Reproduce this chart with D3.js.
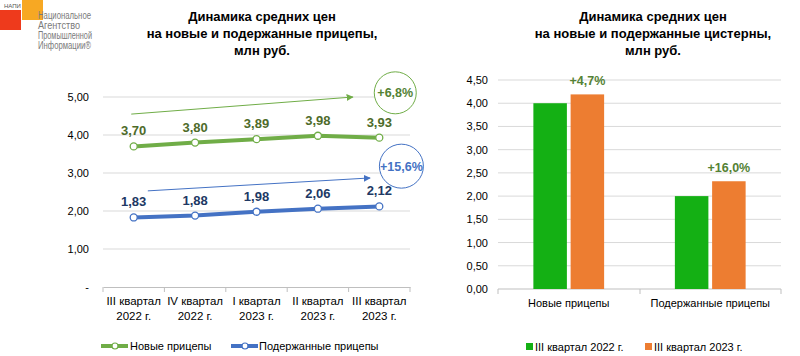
<!DOCTYPE html>
<html><head><meta charset="utf-8">
<script src="https://cdn.jsdelivr.net/npm/d3@7"></script>
<style>body{margin:0;background:#fff}svg{display:block;font-family:"Liberation Sans",Arial,sans-serif}</style>
</head><body><svg id="c" width="800" height="356"></svg>
<script>
// ---- data: left chart (trailers) ----
const quarters = [["III квартал","2022 г."],["IV квартал","2022 г."],["I квартал","2023 г."],["II квартал","2023 г."],["III квартал","2023 г."]];
const newTrailers = [3.70, 3.80, 3.89, 3.98, 3.93];
const usedTrailers = [1.83, 1.88, 1.98, 2.06, 2.12];
const leftTicks = [0, 1, 2, 3, 4, 5];
const leftTickLabels = ["-", "1,00", "2,00", "3,00", "4,00", "5,00"];
const leftSeriesNames = ["Новые прицепы", "Подержанные прицепы"];
const growthNew = "+6,8%";
const growthUsed = "+15,6%";
// ---- data: right chart (tankers) ----
const tankCats = ["Новые прицепы", "Подержанные прицепы"];
const tankSeries = ["III квартал 2022 г.", "III квартал 2023 г."];
const tank2022 = [4.00, 2.00];
const tank2023 = [4.19, 2.32];
const tankGrowth = ["+4,7%", "+16,0%"];
const rightTicks = [0, 0.5, 1, 1.5, 2, 2.5, 3, 3.5, 4, 4.5];

const svg = d3.select("#c");
const fmt = v => v.toFixed(2).replace(".", ",");
const GREEN = "#70ad47", BLUE = "#4472c4";

// ---- logo ----
const logo = svg.append("g");
logo.append("rect").attr("x",0).attr("y",10).attr("width",21).attr("height",20).attr("fill","#ee3a1c");
logo.append("rect").attr("x",22).attr("y",0).attr("width",21).attr("height",20).attr("fill","#f7a823");
logo.append("text").attr("x",4).attr("y",8).attr("font-size",6).attr("fill","#555").text("НАПИ");
const logoLines = [["Национальное",19,53],["Агентство",29,42],["Промышленной",39,54],["Информации®",49,53]];
logoLines.forEach(([t,y,w])=>{
  logo.append("text").attr("x",38).attr("y",y).attr("font-size",10)
    .attr("textLength",w).attr("lengthAdjust","spacingAndGlyphs")
    .attr("fill","#7a7a7a").text(t);
});

// ---- titles ----
function title(cx, lines){
  lines.forEach((t,i)=>svg.append("text").attr("x",cx).attr("y",21+i*17).attr("text-anchor","middle")
    .attr("font-size",13).attr("font-weight","bold").attr("fill","#000").text(t));
}
title(262, ["Динамика средних цен","на новые и подержанные прицепы,","млн руб."]);
title(653, ["Динамика средних цен","на новые и подержанные цистерны,","млн руб."]);

// ---- left chart ----
const xL = d3.scaleBand().domain(quarters.map((d,i)=>i)).range([103,410]).padding(0);
const xi = d3.scaleLinear().domain([0,4]).range([xL(0)+xL.bandwidth()/2, xL(4)+xL.bandwidth()/2]);
const yL = d3.scaleLinear().domain([0,5]).range([287,97]);

const gl = svg.append("g");
gl.selectAll("line.grid").data(leftTicks.filter(d=>d>0)).join("line")
  .attr("x1",103).attr("x2",410).attr("y1",d=>yL(d)).attr("y2",d=>yL(d))
  .attr("stroke","#d9d9d9").attr("stroke-width",1);
gl.selectAll("text.yl").data(leftTicks).join("text")
  .attr("x",89).attr("y",d=>yL(d)+4).attr("text-anchor","end").attr("font-size",11).attr("fill","#000")
  .text((d,i)=>leftTickLabels[i]);
// x axis
const axL = gl.append("g").attr("transform","translate(0,287)")
  .call(d3.axisBottom(xL).tickSize(0).tickFormat(""));
axL.select(".domain").attr("stroke","#bfbfbf");
d3.range(6).forEach(i=>{
  const xx = 103 + i*xL.step();
  gl.append("line").attr("x1",xx).attr("x2",xx).attr("y1",287).attr("y2",292).attr("stroke","#bfbfbf");
});
quarters.forEach((q,i)=>{
  q.forEach((t,j)=>gl.append("text").attr("x",xi(i)).attr("y",305+j*15).attr("text-anchor","middle")
    .attr("font-size",11.5).attr("fill","#000").text(t));
});

const line = d3.line().x((d,i)=>xi(i)).y(d=>yL(d));
[[newTrailers,GREEN,"#4e6b2a"],[usedTrailers,BLUE,"#203864"]].forEach(([vals,col,lc])=>{
  gl.append("path").datum(vals).attr("d",line).attr("fill","none").attr("stroke",col).attr("stroke-width",4)
    .attr("stroke-linejoin","round");
  gl.selectAll(null).data(vals).join("circle").attr("cx",(d,i)=>xi(i)).attr("cy",d=>yL(d)).attr("r",3.5)
    .attr("fill","#fff").attr("stroke",col).attr("stroke-width",1.3);
  gl.selectAll(null).data(vals).join("text").attr("x",(d,i)=>xi(i)).attr("y",d=>yL(d)-11)
    .attr("text-anchor","middle").attr("font-size",13).attr("font-weight","bold").attr("fill",lc).text(fmt);
});

// arrows + growth circles
const defs = svg.append("defs");
[["ag",GREEN],["ab",BLUE]].forEach(([id,c])=>{
  defs.append("marker").attr("id",id).attr("viewBox","0 0 10 10").attr("refX",9).attr("refY",5)
    .attr("markerWidth",7).attr("markerHeight",7).attr("orient","auto")
    .append("path").attr("d","M0,0L10,5L0,10z").attr("fill",c);
});
const arrows = [
  {x0:-0.04,y0:4.55,x1:3.57,y1:5.0,c:GREEN,m:"ag",cx:4.26,cy:5.11,r:21,t:growthNew},
  {x0:0.23,y0:2.53,x1:3.85,y1:2.87,c:BLUE,m:"ab",cx:4.36,cy:3.18,r:22,t:growthUsed}
];
arrows.forEach(a=>{
  gl.append("line").attr("x1",xi(a.x0)).attr("y1",yL(a.y0)).attr("x2",xi(a.x1)).attr("y2",yL(a.y1))
    .attr("stroke",a.c).attr("stroke-width",1).attr("marker-end",`url(#${a.m})`);
  gl.append("circle").attr("cx",xi(a.cx)).attr("cy",yL(a.cy)).attr("r",a.r).attr("fill","#fff")
    .attr("stroke",a.c).attr("stroke-width",1);
  gl.append("text").attr("x",xi(a.cx)).attr("y",yL(a.cy)+4.5).attr("text-anchor","middle")
    .attr("font-size",12.5).attr("font-weight","bold").attr("fill",a.c===GREEN?"#548235":BLUE).text(a.t);
});

// left legend
[[0,GREEN,101,130],[1,BLUE,231,259]].forEach(([i,c,x0,tx])=>{
  gl.append("line").attr("x1",x0).attr("x2",x0+27).attr("y1",346).attr("y2",346).attr("stroke",c).attr("stroke-width",4);
  gl.append("circle").attr("cx",x0+14).attr("cy",346).attr("r",3).attr("fill","#fff").attr("stroke",c).attr("stroke-width",1.2);
  gl.append("text").attr("x",tx).attr("y",350).attr("font-size",11).attr("fill","#000").text(leftSeriesNames[i]);
});

// ---- right chart ----
const gr = svg.append("g");
const x0R = d3.scaleBand().domain(tankCats).range([498,781]).paddingInner(0.5).paddingOuter(0.25);
const x1R = d3.scaleBand().domain(tankSeries).range([0,x0R.bandwidth()]).paddingInner(0.1);
const yR = d3.scaleLinear().domain([0,4.5]).range([289,80]);
gr.selectAll(null).data(rightTicks.filter(d=>d>0)).join("line")
  .attr("x1",498).attr("x2",781).attr("y1",d=>yR(d)).attr("y2",d=>yR(d)).attr("stroke","#d9d9d9");
gr.selectAll(null).data(rightTicks).join("text").attr("x",488).attr("y",d=>yR(d)+4)
  .attr("text-anchor","end").attr("font-size",11).attr("fill","#000").text(fmt);
gr.append("line").attr("x1",498).attr("x2",781).attr("y1",289).attr("y2",289).attr("stroke","#bfbfbf");
[498,640,781].forEach(xx=>gr.append("line").attr("x1",xx).attr("x2",xx).attr("y1",289).attr("y2",294).attr("stroke","#bfbfbf"));
const barCols = ["#14b014","#ed7d31"];
const seriesVals = [tank2022, tank2023];
tankCats.forEach((c,ci)=>{
  tankSeries.forEach((s,si)=>{
    const v = seriesVals[si][ci];
    gr.append("rect").attr("x",x0R(c)+x1R(s)).attr("y",yR(v)).attr("width",x1R.bandwidth())
      .attr("height",yR(0)-yR(v)).attr("fill",barCols[si]);
  });
  gr.append("text").attr("x",x0R(c)+x1R(tankSeries[1])+x1R.bandwidth()/2).attr("y",yR(tank2023[ci])-9)
    .attr("text-anchor","middle").attr("font-size",12.5).attr("font-weight","bold").attr("fill","#548235").text(tankGrowth[ci]);
  gr.append("text").attr("x",x0R(c)+x0R.bandwidth()/2).attr("y",307).attr("text-anchor","middle")
    .attr("font-size",11).attr("fill","#000").text(c);
});
[[0,526],[1,645]].forEach(([i,x])=>{
  gr.append("rect").attr("x",x).attr("y",343).attr("width",7).attr("height",7).attr("fill",barCols[i]);
  gr.append("text").attr("x",x+9).attr("y",350.5).attr("font-size",11).attr("fill","#000").text(tankSeries[i]);
});
</script></body></html>
